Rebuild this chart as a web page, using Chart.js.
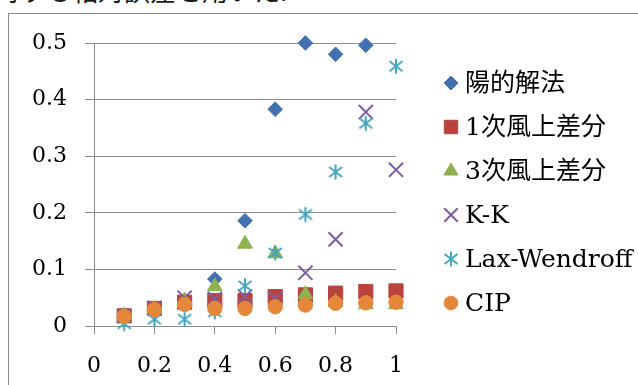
<!DOCTYPE html>
<html>
<head>
<meta charset="utf-8">
<script src="https://cdn.jsdelivr.net/npm/chart.js@4/dist/chart.umd.min.js"></script>
<style>
  html, body { margin: 0; padding: 0; background: #fff; overflow: hidden; }
  #wrap { position: relative; width: 638px; height: 385px; overflow: hidden; background: #fff; }
  #caption { position: absolute; left: -6px; top: -23px; font: 26px/26px 'Noto Sans CJK JP', sans-serif;
             white-space: nowrap; color: #1a1a1a; }
  #frame { position: absolute; left: 8px; top: 13px; width: 700px; height: 500px;
           border-left: 1px solid #8a8a8a; border-top: 1px solid #8a8a8a; }
  #chart { position: absolute; left: 0; top: 0; }
</style>
</head>
<body>
<div id="wrap">
  <div id="caption">対する相対誤差を用いた.</div>
  <div id="frame"></div>
  <canvas id="chart" width="638" height="385"></canvas>
</div>
<script>
// Courant number (x) and relative error (y) for each scheme
const courant = [0.1, 0.2, 0.3, 0.4, 0.5, 0.6, 0.7, 0.8, 0.9, 1.0];
const seriesNames = ['陽的解法', '1次風上差分', '3次風上差分', 'K-K', 'Lax-Wendroff', 'CIP'];
const explicitErr = [0.017, 0.030, 0.045, 0.083, 0.186, 0.383, 0.500, 0.480, 0.496, null];
const upwind1Err  = [0.018, 0.031, 0.042, 0.045, 0.045, 0.052, 0.055, 0.058, 0.061, 0.062];
const upwind3Err  = [0.018, 0.030, 0.045, 0.070, 0.145, 0.128, 0.056, 0.042, 0.038, 0.038];
const kkErr       = [0.018, 0.032, 0.050, 0.048, 0.052, 0.049, 0.094, 0.153, 0.378, 0.276];
const laxWendErr  = [0.004, 0.012, 0.012, 0.025, 0.071, 0.129, 0.197, 0.272, 0.358, 0.459];
const cipErr      = [0.017, 0.029, 0.038, 0.031, 0.031, 0.034, 0.037, 0.040, 0.041, 0.042];
const xTickValues = [0, 0.2, 0.4, 0.6, 0.8, 1];
const yTickValues = [0, 0.1, 0.2, 0.3, 0.4, 0.5];

const FONT_FAMILY = "'DejaVu Serif', 'Noto Sans CJK JP', serif";
const GRID = '#8c8c8c';

// six-armed asterisk marker
function asteriskMarker(color) {
  const c = document.createElement('canvas');
  c.width = 18; c.height = 18;
  const g = c.getContext('2d');
  g.strokeStyle = color; g.lineWidth = 2; g.lineCap = 'butt';
  g.beginPath();
  g.moveTo(9, 1.5); g.lineTo(9, 16.5);
  g.moveTo(2.5, 4); g.lineTo(15.5, 14);
  g.moveTo(15.5, 4); g.lineTo(2.5, 14);
  g.stroke();
  return c;
}

function pts(values) {
  return courant.map((x, i) => ({ x: x, y: values[i] })).filter(p => p.y !== null);
}

const styles = [
  { data: explicitErr, color: '#4371b0', pointStyle: 'rectRot', radius: 7.3, border: 1 },
  { data: upwind1Err,  color: '#b8433f', pointStyle: 'rect',    radius: 10,  border: 1 },
  { data: upwind3Err,  color: '#8fb14f', pointStyle: 'triangle', radius: 8.5, border: 1 },
  { data: kkErr,       color: '#7b5e9e', pointStyle: 'crossRot', radius: 10, border: 2 },
  { data: laxWendErr,  color: '#45a5bc', pointStyle: asteriskMarker('#45a5bc'), radius: 8, border: 2 },
  { data: cipErr,      color: '#e4873b', pointStyle: 'circle',  radius: 7.2, border: 1 }
];

const datasets = styles.map((s, i) => ({
  label: seriesNames[i],
  data: pts(s.data),
  pointStyle: s.pointStyle,
  pointRadius: s.radius,
  pointHoverRadius: s.radius,
  backgroundColor: s.color,
  borderColor: s.color,
  borderWidth: s.border,
  showLine: false,
  clip: false,
  order: styles.length - i
}));

// legend drawn at the right of the plot, one row per series
const sideLegend = {
  id: 'sideLegend',
  afterDraw(chart) {
    const ctx = chart.ctx;
    const markX = 451, textX = 465, top = 83, step = 44;
    ctx.save();
    chart.data.datasets.forEach((ds, i) => {
      const y = top + i * step;
      ctx.fillStyle = ds.backgroundColor;
      ctx.strokeStyle = ds.borderColor;
      ctx.lineWidth = ds.borderWidth;
      Chart.helpers.drawPoint(ctx, {
        pointStyle: ds.pointStyle, radius: ds.pointRadius * 0.95, rotation: 0, borderWidth: ds.borderWidth
      }, markX, y);
      ctx.fillStyle = '#000';
      ctx.font = '25px ' + FONT_FAMILY;
      ctx.textAlign = 'left';
      ctx.textBaseline = 'middle';
      ctx.fillText(ds.label, textX, y + 1);
    });
    ctx.restore();
  }
};

const fmt = v => String(Number(v.toFixed(2)));

new Chart(document.getElementById('chart'), {
  type: 'scatter',
  data: { datasets },
  plugins: [sideLegend],
  options: {
    responsive: false,
    animation: false,
    events: [],
    layout: { padding: { left: 0, top: 43, right: 242, bottom: 0 } },
    plugins: { legend: { display: false }, tooltip: { enabled: false } },
    scales: {
      x: {
        type: 'linear', min: 0, max: 1,
        afterFit(scale) { scale.height = 59; },
        afterBuildTicks(scale) { scale.ticks = xTickValues.map(v => ({ value: v })); },
        grid: { drawOnChartArea: false, drawTicks: true, tickLength: 8, color: GRID, lineWidth: 1 },
        border: { display: true, color: GRID, width: 1 },
        ticks: { color: '#000', padding: 19, font: { family: FONT_FAMILY, size: 22 }, callback: fmt }
      },
      y: {
        type: 'linear', min: 0, max: 0.5,
        afterFit(scale) { scale.width = 94; },
        afterBuildTicks(scale) { scale.ticks = yTickValues.map(v => ({ value: v })); },
        grid: { drawOnChartArea: true, drawTicks: true, tickLength: 9, color: GRID, lineWidth: 1 },
        border: { display: true, color: GRID, width: 1 },
        ticks: { color: '#000', padding: 18, font: { family: FONT_FAMILY, size: 22 }, callback: fmt }
      }
    }
  }
});
</script>
</body>
</html>
